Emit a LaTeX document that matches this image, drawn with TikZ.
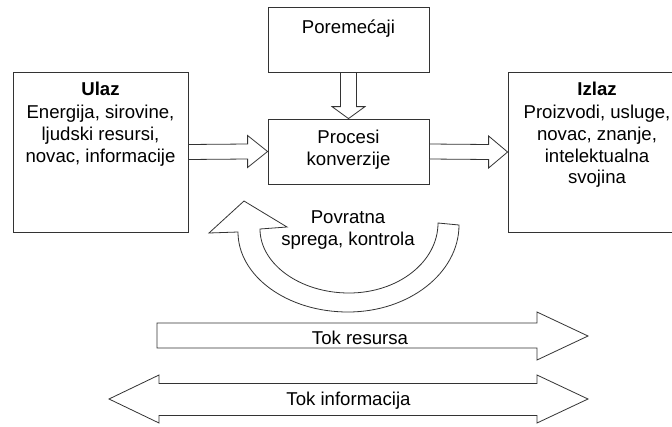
\documentclass[tikz,border=0pt]{standalone}
\usepackage{fontspec}
\setmainfont{Liberation Sans}
\usetikzlibrary{calc}
\begin{document}
\begin{tikzpicture}[x=1pt,y=-1pt,
  line/.style={draw=black!80,line width=0.8pt,line join=miter},
  blk/.style={line,fill=white},
  box/.style={line,fill=white,rectangle,inner sep=0pt},
  txt/.style={anchor=base,inner sep=0pt,font=\fontsize{18.6}{21.7}\selectfont}]
\clip (0,0) rectangle (672,426);
\fill[white] (0,0) rectangle (672,426);
% boxes
\node[box,minimum width=175,minimum height=160] (ulaz) at (100.5,152) {};
\node[box,minimum width=161,minimum height=65] (por) at (348.5,39.5) {};
\node[box,minimum width=161,minimum height=65] (proc) at (348.5,151.5) {};
\node[box,minimum width=178,minimum height=160] (izlaz) at (597,152) {};
% block arrows between boxes
\draw[blk] ($(ulaz.east)+(0,-7.5)$) -- ($(proc.west)+(-20,-7.5)$) -- ($(proc.west)+(-20,-16)$)
  -- (proc.west) -- ($(proc.west)+(-20,16)$) -- ($(proc.west)+(-20,7.5)$) -- ($(ulaz.east)+(0,7.5)$) -- cycle;
\draw[blk] ($(proc.east)+(0,-7.5)$) -- ($(izlaz.west)+(-19,-7.5)$) -- ($(izlaz.west)+(-19,-16)$)
  -- (izlaz.west) -- ($(izlaz.west)+(-19,16)$) -- ($(izlaz.west)+(-19,7.5)$) -- ($(proc.east)+(0,7.5)$) -- cycle;
\draw[blk] ($(por.south)+(-8,0)$) -- ($(proc.north)+(-8,-12)$) -- ($(proc.north)+(-16.5,-12)$)
  -- (proc.north) -- ($(proc.north)+(16.5,-12)$) -- ($(proc.north)+(8,-12)$) -- ($(por.south)+(8,0)$) -- cycle;
% feedback curved arrow
\draw[blk] (438,223) -- (459,225)
  .. controls (459,273) and (409,312) .. (348,312)
  .. controls (287,312) and (238,276) .. (238,232)
  -- (209,233) -- (244,201) -- (287,227) -- (260,229)
  .. controls (260,264) and (300,293) .. (349,293)
  .. controls (398,293) and (438,262) .. (438,223) -- cycle;
% flow arrows
\draw[blk] (157,323) -- (537,323) -- (537,312) -- (588,336) -- (537,360) -- (537,348) -- (157,348) -- cycle;
\draw[blk] (109,399) -- (159,375) -- (159,383.5) -- (537,383.5) -- (537,375) -- (588,399)
  -- (537,423) -- (537,415.5) -- (159,415.5) -- (159,423) -- cycle;
% texts
\node[txt] (t-por) at (348.5,33) {Poremećaji};
\node[txt] (t-proc1) at (348.5,143.5) {Procesi};
\node[txt] (t-proc2) at (348.5,165) {konverzije};
\node[txt] (t-ul0) at (100.5,95.5) {\bfseries Ulaz};
\node[txt] (t-ul1) at (100.5,118.5) {Energija, sirovine,};
\node[txt] (t-ul2) at (100.5,140.5) {ljudski resursi,};
\node[txt] (t-ul3) at (100.5,162) {novac, informacije};
\node[txt] (t-iz0) at (597,95.5) {\bfseries Izlaz};
\node[txt] (t-iz1) at (597,118.5) {Proizvodi, usluge,};
\node[txt] (t-iz2) at (597,140.5) {novac, znanje,};
\node[txt] (t-iz3) at (597,162) {intelektualna};
\node[txt] (t-iz4) at (597,183.5) {svojina};
\node[txt] (t-pov1) at (348,223) {Povratna};
\node[txt] (t-pov2) at (348,245) {sprega, kontrola};
\node[txt] (t-res) at (360,344) {Tok resursa};
\node[txt] (t-inf) at (348.5,405) {Tok informacija};
\end{tikzpicture}
\end{document}
